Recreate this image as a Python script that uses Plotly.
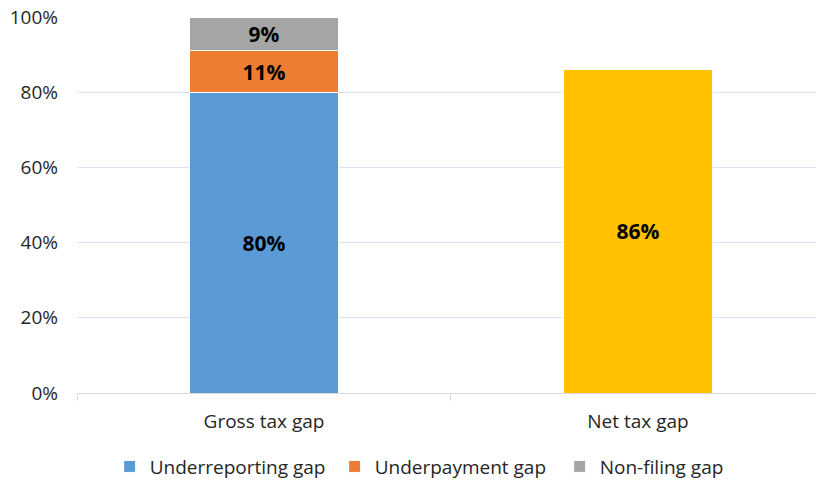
import plotly.graph_objects as go

categories = ["Gross tax gap", "Net tax gap"]
underreporting = [80, None]
underpayment = [11, None]
nonfiling = [9, None]
net_gap = [None, 86]
y_ticks = [0, 20, 40, 60, 80, 100]
y_tick_labels = ["0%", "20%", "40%", "60%", "80%", "100%"]

FONT = "Open Sans"
TXT = "#262626"
label_font = dict(family=FONT, size=21, color="black", weight="bold")

def mk(name, vals, color, show=True):
    return go.Bar(
        name=name, x=categories, y=vals, marker=dict(color=color, line=dict(color="white", width=1)),
        text=[f"{v}%" if v is not None else "" for v in vals],
        textposition="inside", insidetextanchor="middle",
        textfont=label_font, showlegend=show, hoverinfo="skip",
    )

fig = go.Figure()
fig.add_trace(mk("Underreporting gap", underreporting, "#5B9BD5"))
fig.add_trace(mk("Underpayment gap", underpayment, "#ED7D31"))
fig.add_trace(mk("Non-filing gap", nonfiling, "#A5A5A5"))
fig.add_trace(mk("Net tax gap", net_gap, "#FFC000", show=False))

fig.update_layout(
    barmode="stack",
    bargap=0.599,
    width=816, height=481,
    margin=dict(l=77, r=0, t=17, b=88),
    plot_bgcolor="white", paper_bgcolor="white",
    font=dict(family=FONT, size=19, color=TXT),
    uniformtext=dict(mode=False),
    legend=dict(
        orientation="h", xref="container", yref="container",
        x=0.548, xanchor="center", y=0.03, yanchor="middle",
        traceorder="normal",
        font=dict(family=FONT, size=19, color=TXT),
        entrywidth=180, itemwidth=30,
    ),
)
fig.update_yaxes(
    range=[0, 100], tickvals=y_ticks, ticktext=y_tick_labels,
    showgrid=True, gridcolor="#DAE3F3", gridwidth=1,
    zeroline=False, showline=False, ticks="", ticklabelstandoff=18,
    tickfont=dict(family=FONT, size=19, color=TXT),
)
fig.update_xaxes(
    range=[-0.5, 1.476],
    showline=True, linecolor="#D9D9D9", linewidth=1,
    ticks="outside", tickson="boundaries", ticklen=7, tickcolor="#D9D9D9",
    ticklabelstandoff=11,
    tickfont=dict(family=FONT, size=19, color=TXT),
)

fig.write_html("out.html")
